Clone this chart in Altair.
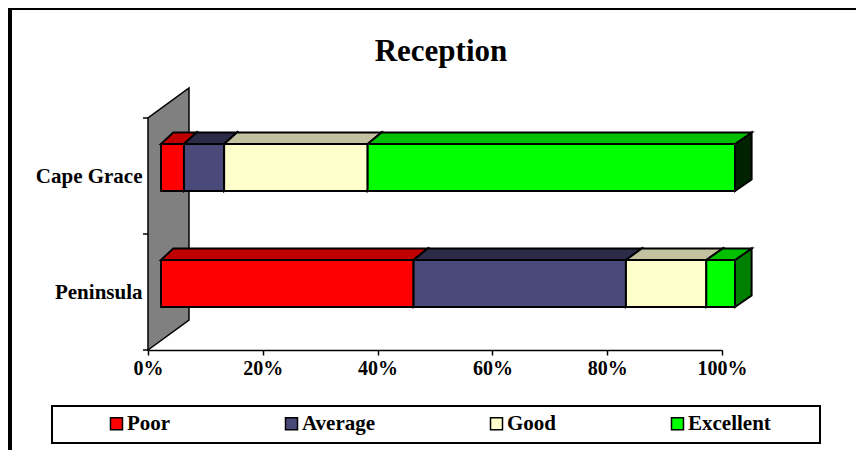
import altair as alt
import pandas as pd

# ---------------- data ----------------
categories = ["Cape Grace", "Peninsula"]          # top to bottom
ratings = ["Poor", "Average", "Good", "Excellent"]
cape_grace = [4, 7, 25, 64]                       # percent
peninsula = [44, 37, 14, 5]                       # percent
x_ticks = [0, 20, 40, 60, 80, 100]

# ---------------- style ----------------
front_colors = ["#FF0000", "#4A4A7A", "#FFFFCC", "#00FF00"]
top_colors = ["#C00000", "#2B2B48", "#C2C2A0", "#00C000"]
side_colors = ["#800000", "#1E1E34", "#8C8C70"]
end_side = {"Cape Grace": "#002200", "Peninsula": "#008000"}
FONT = "Liberation Serif"

W, H = 574, 232
PX_X = W / 100.0          # px per percent
PX_Y = H / 2.0            # px per category unit
FX, FY = 13 / PX_X, 8.5 / PX_Y      # front-face shift (depth 1/3)
HALF = 23.5 / PX_Y                  # half bar thickness
DY = 11.5 / PX_Y                    # bar depth (vertical)
WALL_X, WALL_Y = 41 / PX_X, 30 / PX_Y


def depth_x(v):
    return (12.3 + 4.3 * v / 100.0) / PX_X


values = {"Cape Grace": cape_grace, "Peninsula": peninsula}
n_cat = len(categories)

front_rows, top_rows, side_rows = [], [], []
for ci, cat in enumerate(categories):
    yc = n_cat - ci - 0.5
    start = 0.0
    for ri, rating in enumerate(ratings):
        a, b = start, start + values[cat][ri]
        start = b
        seg = f"{cat}-{rating}"
        af, bf = a + FX, b + FX
        ab, bb = af + depth_x(a), bf + depth_x(b)
        y0f, y1f = yc - HALF + FY, yc + HALF + FY
        y0b, y1b = y0f + DY, y1f + DY
        front_rows.append(dict(Category=cat, Rating=rating, xa=af, xb=bf, ya=y0f, yb=y1f))
        top_rows += [
            dict(seg=seg, y=y1f, x=af, x2=bf, fill=top_colors[ri]),
            dict(seg=seg, y=y1b, x=ab, x2=bb, fill=top_colors[ri]),
        ]
        sc = end_side[cat] if ri == len(ratings) - 1 else side_colors[ri]
        side_rows += [
            dict(seg=seg, x=bf, y=y0f, y2=y1f, fill=sc),
            dict(seg=seg, x=bb, y=y0b, y2=y1b, fill=sc),
        ]

fronts = pd.DataFrame(front_rows)
tops = pd.DataFrame(top_rows)
sides = pd.DataFrame(side_rows)
wall = pd.DataFrame(dict(x=[0, WALL_X], y=[0, WALL_Y], y2=[n_cat, n_cat + WALL_Y]))
ticks = pd.DataFrame(dict(x=[0] * (n_cat + 1), y=list(range(n_cat + 1))))

# ---------------- scales & axes ----------------
X_SCALE = alt.Scale(domain=[0, 100], nice=False, zero=False)
Y_SCALE = alt.Scale(domain=[0, n_cat], nice=False, zero=False)

label_expr = "".join(
    f"datum.value == {n_cat - i - 0.5} ? '{c}' : " for i, c in enumerate(categories)
) + "''"

X_AXIS = alt.Axis(
    title=None, values=x_ticks, labelExpr="datum.value + '%'", grid=False,
    domainColor="black", domainWidth=1.5, tickColor="black", tickWidth=1.5, tickSize=5,
    labelFont=FONT, labelFontSize=20, labelFontWeight="bold", labelColor="black",
    labelPadding=3, labelFlush=False, labelOverlap=False, zindex=1,
)
Y_AXIS = alt.Axis(
    title=None, values=[n_cat - i - 0.5 for i in range(n_cat)], labelExpr=label_expr,
    ticks=False, domain=False, grid=False,
    labelFont=FONT, labelFontSize=21, labelFontWeight="bold", labelColor="black",
    labelPadding=6,
)

base_dummy = pd.DataFrame({"a": [0]})

border = alt.Chart(base_dummy).mark_rect(fillOpacity=0, stroke="black", strokeWidth=4).encode(
    x=alt.value(-138), x2=alt.value(1000), y=alt.value(-110), y2=alt.value(1000)
)
legend_frame = alt.Chart(base_dummy).mark_rect(fillOpacity=0, stroke="black", strokeWidth=2).encode(
    x=alt.value(-96), x2=alt.value(672), y=alt.value(288), y2=alt.value(325)
)

wall_layer = alt.Chart(wall).mark_area(
    orient="vertical", fill="#808080", stroke="black", strokeWidth=1.5, opacity=1
).encode(
    x=alt.X("x:Q", scale=X_SCALE, axis=X_AXIS),
    y=alt.Y("y:Q", scale=Y_SCALE, axis=Y_AXIS),
    y2="y2:Q",
)

tick_layer = alt.Chart(ticks).mark_rule(color="black", strokeWidth=1.5, x2Offset=-5).encode(
    x=alt.X("x:Q", scale=X_SCALE, axis=X_AXIS),
    x2="x:Q",
    y=alt.Y("y:Q", scale=Y_SCALE, axis=Y_AXIS),
)

side_layer = alt.Chart(sides).mark_area(
    orient="vertical", stroke="black", strokeWidth=2, opacity=1
).encode(
    x=alt.X("x:Q", scale=X_SCALE, axis=X_AXIS),
    y=alt.Y("y:Q", scale=Y_SCALE, axis=Y_AXIS),
    y2="y2:Q",
    fill=alt.Fill("fill:N", scale=None),
    detail="seg:N",
)

top_layer = alt.Chart(tops).mark_area(
    orient="horizontal", stroke="black", strokeWidth=2, opacity=1
).encode(
    y=alt.Y("y:Q", scale=Y_SCALE, axis=Y_AXIS),
    x=alt.X("x:Q", scale=X_SCALE, axis=X_AXIS),
    x2="x2:Q",
    fill=alt.Fill("fill:N", scale=None),
    detail="seg:N",
)

front_layer = alt.Chart(fronts).mark_rect(stroke="black", strokeWidth=2, opacity=1).encode(
    x=alt.X("xa:Q", scale=X_SCALE, axis=X_AXIS),
    x2="xb:Q",
    y=alt.Y("ya:Q", scale=Y_SCALE, axis=Y_AXIS),
    y2="yb:Q",
    color=alt.Color(
        "Rating:N",
        scale=alt.Scale(domain=ratings, range=front_colors),
        legend=alt.Legend(
            title=None, orient="none", legendX=-42, legendY=295, direction="horizontal",
            symbolType="square", symbolSize=144, symbolStrokeColor="black",
            symbolStrokeWidth=1.5, symbolOpacity=1,
            labelFont=FONT, labelFontSize=21, labelFontWeight="bold", labelColor="black",
            labelOffset=0, columnPadding=110, padding=0,
        ),
    ),
    tooltip=["Category:N", "Rating:N"],
)

chart = alt.layer(
    border, legend_frame, wall_layer, tick_layer, side_layer, top_layer, front_layer
).properties(
    width=W,
    height=H,
    autosize=alt.AutoSizeParams(type="none"),
    padding={"left": 140, "top": 110, "right": 134, "bottom": 100},
    title=alt.TitleParams(
        "Reception", font=FONT, fontSize=31, fontWeight="bold", color="black",
        anchor="middle", frame="group", baseline="alphabetic", offset=0, dy=86, dx=6,
    ),
).configure(
    background="white", font=FONT
).configure_view(
    stroke="transparent", strokeWidth=0
).configure_legend(
    labelFont=FONT, labelFontSize=21, labelFontWeight="bold", labelColor="black"
)

chart.save("out.html", embed_options={"renderer": "svg", "actions": False})
